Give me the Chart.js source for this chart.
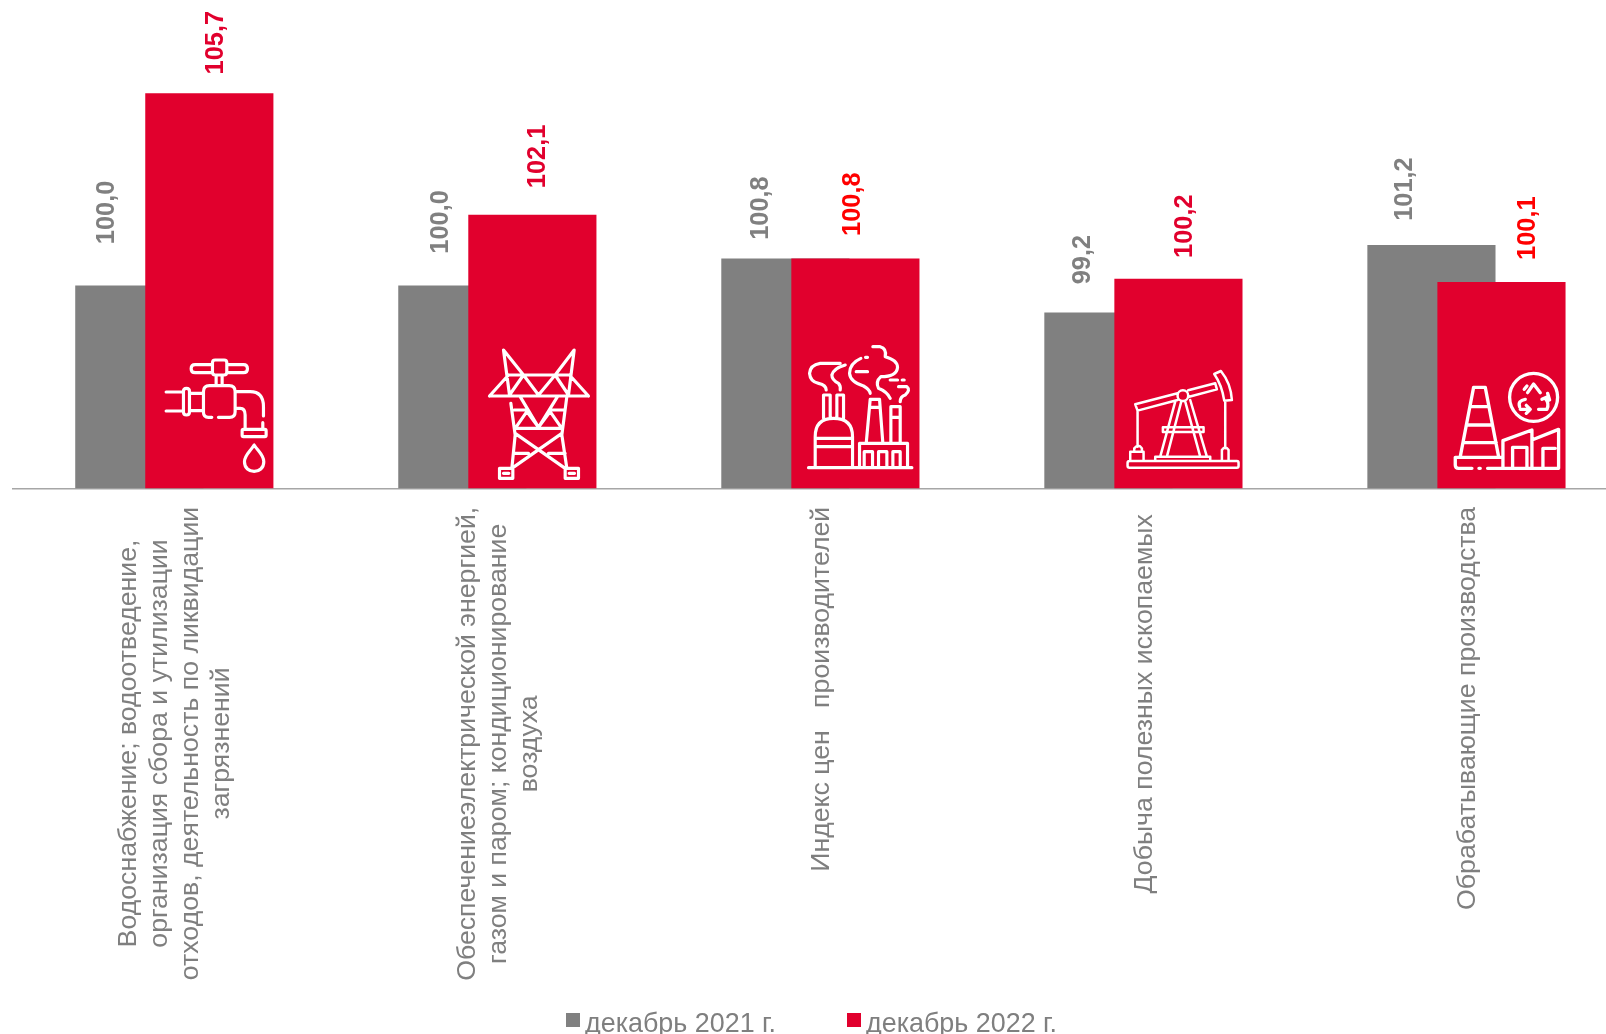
<!DOCTYPE html>
<html lang="ru">
<head>
<meta charset="utf-8">
<title>Индексы цен производителей</title>
<script src="https://cdn.jsdelivr.net/npm/chart.js@4"></script>
<style>
  html, body { margin: 0; padding: 0; background: #ffffff; }
  canvas { display: block; }
</style>
</head>
<body>
<canvas id="chart" width="1606" height="1034"></canvas>
<script>
// Values
const categoryLines = [
    ['Водоснабжение; водоотведение,', 'организация сбора и утилизации', 'отходов, деятельность по ликвидации', 'загрязнений'],
    ['Обеспечениеэлектрической энергией,', 'газом и паром; кондиционирование', 'воздуха'],
    ['Индекс цен   производителей'],
    ['Добыча полезных ископаемых '],
    ['Обрабатывающие производства']
];
const seriesNames = ['декабрь 2021 г.', 'декабрь 2022 г.'];
const dec2021 = [100.0, 100.0, 100.8, 99.2, 101.2];
const dec2022 = [105.7, 102.1, 100.8, 100.2, 100.1];

// Colours
const GREY = '#808080';
const RED = '#E1002D';
const TEXT_GREY = '#7F7F7F';
const dec2021LabelColors = [GREY, GREY, GREY, GREY, GREY];
const dec2022LabelColors = [RED, RED, '#FF0000', RED, '#FF0000'];

// Hand placed value labels in the original: [dx from bar centre, gap above bar top]
const dec2021LabelOffsets = [[-33.7, 41.7], [-22.8, 32.2], [-25.2, 19], [-26.7, 28.5], [-27.2, 24.5]];
const dec2022LabelOffsets = [[5.8, 19], [4.8, 26.8], [-3.2, 22.9], [5.3, 21.2], [25.8, 22.5]];

// Icons, drawn at 3x in a local frame, anchored on the red bar: [dx, dy from baseline]
const iconOffsets = [[-59.2, -148.3], [-62.2, -148.3], [-65.2, -158.3], [-68.2, -138.3], [-71.2, -138.3]];
// M L H V Q C Z as in SVG (absolute), O = circle cx cy r
const iconPaths = [
    // tap
    'M187 68 Q187 60 195 60 H222 Q230 60 230 68 V97 Q230 105 222 105 H195 Q187 105 187 97 Z ' +
    'M187 74 H135 Q123 74 123 86 Q123 98 135 98 H187 M230 74 H280 Q292 74 292 86 Q292 98 280 98 H230 ' +
    'M198 105 V137 M216 105 V137 ' +
    'M185 232 H175 Q160 232 160 217 V155 Q160 137 178 137 H237 Q255 137 255 155 V215 Q255 232 238 232 H205 ' +
    'M48 156 H100 M48 213 H100 M100 154 Q100 145 109 145 Q118 145 118 154 V216 Q118 225 109 225 Q100 225 100 216 Z ' +
    'M118 160 H160 M118 212 H160 ' +
    'M255 155 H300 Q340 155 340 200 V228 M255 205 H270 Q285 205 285 225 V268 M338 248 V268 ' +
    'M280 268 H344 Q348 268 348 272 V286 Q348 290 344 290 H280 Q276 290 276 286 V272 Q276 268 280 268 Z ' +
    'M312 315 C300 335 283 345 283 365 C283 404 341 404 341 365 C341 345 325 335 312 315 Z',
    // pylon
    'M118 165 L100 30 L160 105 M295 165 L312 30 L255 105 ' +
    'M110 105 H300 M58 168 H355 M58 168 L115 105 M355 168 L298 105 ' +
    'M118 165 L160 105 L205 165 L255 105 L295 165 ' +
    'M122 190 L135 285 L125 385 M290 170 L275 285 L290 385 ' +
    'M150 170 L205 262 L262 170 M132 210 H165 M245 210 H280 ' +
    'M135 265 H275 M135 265 L170 215 L205 262 L240 215 L275 265 ' +
    'M135 280 L285 385 M275 280 L125 385 M130 340 H175 M235 340 H285 ' +
    'M88 385 H128 V415 H88 Z M285 385 H325 V415 H285 Z M100 400 H116 M297 400 H313',
    // factory
    'M55 413 H365 M75 413 V320 Q75 265 130 265 Q187 265 187 320 V413 M75 325 H187 M75 350 H187 ' +
    'M100 265 V195 H120 V265 M140 265 V195 H160 V265 ' +
    'M150 100 H90 Q60 105 58 130 Q60 155 85 160 Q108 165 108 180 M165 105 Q130 115 125 135 Q125 150 145 160 Q152 168 150 180 ' +
    'M208 413 V340 H352 V413 M222 413 V365 H247 V413 M265 413 V365 H290 V413 M308 413 V365 H330 V413 ' +
    'M228 340 L240 208 H268 L278 340 M238 232 H270 M302 340 V230 H330 V340 M302 262 H330 ' +
    'M212 85 Q178 100 178 130 Q180 155 220 168 Q238 178 240 190 M198 125 H232 M226 82 H232 ' +
    'M248 50 H270 Q290 55 285 80 Q322 90 322 112 Q320 140 272 140 Q255 155 265 175 Q290 185 300 205 ' +
    'M300 150 H322 M336 150 H342 M325 170 H350 Q362 180 345 195 Q330 200 330 215',
    // oil pump
    'M58 333 H380 Q385 333 385 338 V348 Q385 353 380 353 H58 Q52 353 52 348 V338 Q52 333 58 333 Z ' +
    'M135 333 V320 H300 V333 M75 163 L202 130 M234 121 L315 100 L320 118 L234 141 M202 150 L82 182 L75 163 ' +
    'O218 137 16 ' +
    'M312 72 L332 63 Q362 100 365 150 L342 152 Q335 105 312 72 Z ' +
    'M195 155 L150 320 M213 155 L170 320 M225 155 L270 320 M240 150 L290 320 M158 232 H280 V246 H158 Z ' +
    'M82 180 V290 M60 333 V305 H100 V333 M72 305 V295 Q85 280 95 295 V305 ' +
    'M345 152 V295 M335 333 V300 Q345 285 355 300 V333',
    // recycling plant
    'M90 320 L130 112 H165 L205 320 M122 170 H175 M110 225 H185 M100 278 H198 ' +
    'M125 355 H85 Q75 355 75 345 V322 H212 M146 355 H150 M172 355 H385 V238 L305 270 V240 L218 272 V322 ' +
    'M247 355 V292 H290 V355 M305 270 V355 M338 355 V295 H375 M218 322 V355 ' +
    'O310 142 72 ' +
    'M292 128 L310 102 L330 128 M282 118 L290 108 M268 170 Q262 152 285 148 M270 178 H300 M288 190 L300 178 L288 166 ' +
    'M325 178 H350 Q358 160 345 145 M335 148 L352 140 M352 130 L358 150'
];
const iconLineWidths = [9.5, 9.5, 9.5, 7.5, 10];

function traceIcon(ctx, path) {
    const tokens = path.match(/[A-Z]|-?[\d.]+/g);
    const num = () => parseFloat(tokens[pos++]);
    let pos = 0, x = 0, y = 0, a, b, c, d;
    ctx.beginPath();
    while (pos < tokens.length) {
        const cmd = tokens[pos++];
        if (cmd === 'M') { x = num(); y = num(); ctx.moveTo(x, y); }
        else if (cmd === 'L') { x = num(); y = num(); ctx.lineTo(x, y); }
        else if (cmd === 'H') { x = num(); ctx.lineTo(x, y); }
        else if (cmd === 'V') { y = num(); ctx.lineTo(x, y); }
        else if (cmd === 'Q') { a = num(); b = num(); x = num(); y = num(); ctx.quadraticCurveTo(a, b, x, y); }
        else if (cmd === 'C') { a = num(); b = num(); c = num(); d = num(); x = num(); y = num(); ctx.bezierCurveTo(a, b, c, d, x, y); }
        else if (cmd === 'O') { a = num(); b = num(); c = num(); ctx.moveTo(a + c, b); ctx.arc(a, b, c, 0, Math.PI * 2); }
        else if (cmd === 'Z') { ctx.closePath(); }
    }
}

const BASE_VALUE = 94;
const BAR_SHIFT = 0.1084; // the two bars of a pair overlap, so they sit on a numeric x axis

const annotations = {
    id: 'annotations',
    afterDatasetsDraw(chart) {
        const ctx = chart.ctx;
        const xScale = chart.scales.x;
        const greyBars = chart.getDatasetMeta(0).data;
        const redBars = chart.getDatasetMeta(1).data;

        // icons on top of the red bars
        redBars.forEach((bar, i) => {
            ctx.save();
            ctx.strokeStyle = '#ffffff';
            ctx.lineJoin = 'round';
            ctx.lineCap = 'round';
            ctx.translate(bar.x + iconOffsets[i][0], xScale.top + iconOffsets[i][1]);
            ctx.scale(1 / 3, 1 / 3);
            ctx.lineWidth = iconLineWidths[i];
            traceIcon(ctx, iconPaths[i]);
            ctx.stroke();
            ctx.restore();
        });

        // value labels, rotated
        const drawValues = (bars, values, offsets, colors) => {
            bars.forEach((bar, i) => {
                ctx.save();
                ctx.translate(bar.x + offsets[i][0], bar.y - offsets[i][1]);
                ctx.rotate(-Math.PI / 2);
                ctx.font = 'bold 25.4px "Liberation Sans"';
                ctx.fillStyle = colors[i];
                ctx.textAlign = 'left';
                ctx.textBaseline = 'middle';
                ctx.fillText(values[i].toFixed(1).replace('.', ','), 0, 1);
                ctx.restore();
            });
        };
        drawValues(greyBars, dec2021, dec2021LabelOffsets, dec2021LabelColors);
        drawValues(redBars, dec2022, dec2022LabelOffsets, dec2022LabelColors);

        // category labels: centred multi line text turned by 90 degrees
        ctx.save();
        ctx.font = '26.7px "Liberation Sans"';
        ctx.fillStyle = TEXT_GREY;
        ctx.textAlign = 'center';
        ctx.textBaseline = 'middle';
        const lineHeight = 31;
        categoryLines.forEach((lines, i) => {
            const longest = Math.max(...lines.map(l => ctx.measureText(l).width));
            const cx = xScale.getPixelForValue(i);
            const cy = xScale.bottom + 18.5 + longest / 2;
            lines.forEach((line, j) => {
                ctx.save();
                ctx.translate(cx + (j - (lines.length - 1) / 2) * lineHeight, cy);
                ctx.rotate(-Math.PI / 2);
                ctx.fillText(line, 0, 1);
                ctx.restore();
            });
        });
        ctx.restore();

        // legend
        ctx.save();
        ctx.font = '26.9px "Liberation Sans"';
        ctx.textAlign = 'left';
        ctx.textBaseline = 'alphabetic';
        [[566, GREY], [847, RED]].forEach(([x, color], i) => {
            ctx.fillStyle = color;
            ctx.fillRect(x, 1013, 14, 14);
            ctx.fillStyle = TEXT_GREY;
            ctx.fillText(seriesNames[i], x + 19, 1032);
        });
        ctx.restore();
    }
};

new Chart(document.getElementById('chart'), {
    type: 'bar',
    data: {
        datasets: [
            {
                label: seriesNames[0],
                data: dec2021.map((v, i) => ({ x: i - BAR_SHIFT, y: v })),
                backgroundColor: GREY,
                order: 2
            },
            {
                label: seriesNames[1],
                data: dec2022.map((v, i) => ({ x: i + BAR_SHIFT, y: v })),
                backgroundColor: RED,
                order: 1
            }
        ]
    },
    options: {
        responsive: false,
        animation: false,
        devicePixelRatio: 1,
        grouped: false,
        barThickness: 127.5,
        layout: { padding: { left: 12.8, right: 0, top: 0, bottom: 545.7 } },
        scales: {
            x: {
                type: 'linear',
                offset: false,
                min: -0.5,
                max: 4.432,
                grid: { display: false, drawTicks: false },
                border: { display: true, color: '#A6A6A6', width: 1.5 },
                ticks: { display: false }
            },
            y: {
                display: false,
                min: BASE_VALUE,
                max: 108.47
            }
        },
        plugins: {
            legend: { display: false },
            tooltip: { enabled: false }
        }
    },
    plugins: [annotations]
});
</script>
</body>
</html>
